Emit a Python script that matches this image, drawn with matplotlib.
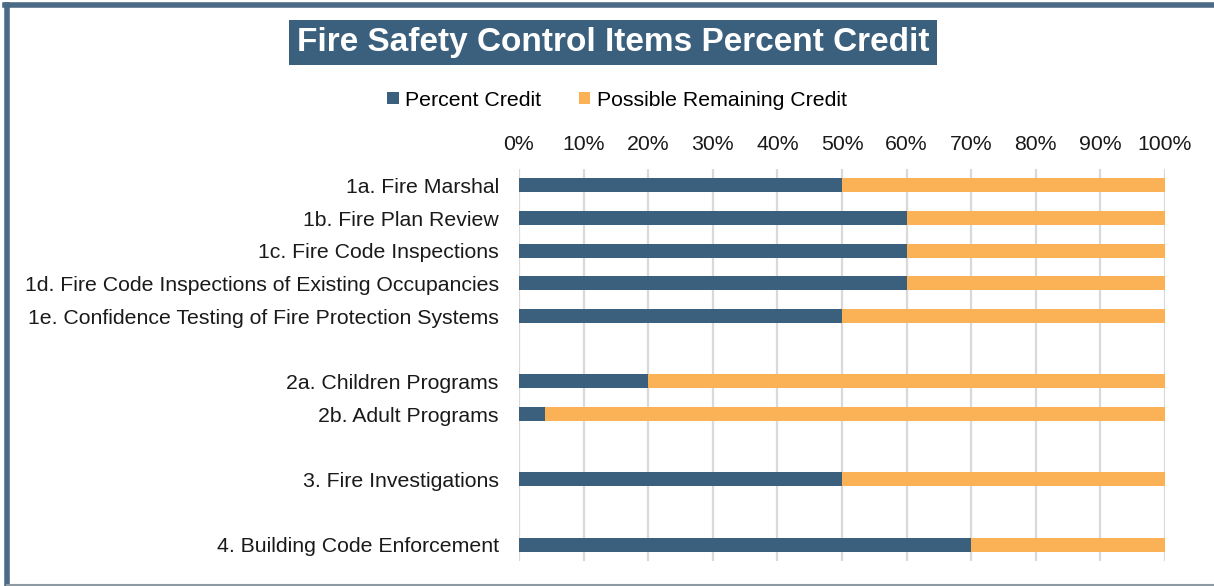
import matplotlib
matplotlib.use("Agg")
import matplotlib.pyplot as plt
from matplotlib.lines import Line2D
from matplotlib.ticker import PercentFormatter

categories = [
    "1a. Fire Marshal",
    "1b. Fire Plan Review",
    "1c. Fire Code Inspections",
    "1d. Fire Code Inspections of Existing Occupancies",
    "1e. Confidence Testing of Fire Protection Systems",
    "",
    "2a. Children Programs",
    "2b. Adult Programs",
    "",
    "3. Fire Investigations",
    "",
    "4. Building Code Enforcement",
]
percent_credit = [50, 60, 60, 60, 50, 0, 20, 4, 0, 50, 0, 70]
remaining_credit = [50, 40, 40, 40, 50, 0, 80, 96, 0, 50, 0, 30]
x_ticks = [0, 10, 20, 30, 40, 50, 60, 70, 80, 90, 100]

DARK = "#3b607d"
ORANGE = "#fbb257"
FONT = ["Liberation Sans", "DejaVu Sans"]
plt.rcParams["font.family"] = FONT
FS = 15.3

W, H = 1214, 586
fig = plt.figure(figsize=(W / 100, H / 100), dpi=100)
ax = fig.add_axes([519 / W, 1 - 561 / H, (1165 - 519) / W, (561 - 169) / H])

y = list(range(len(categories)))
ax.barh(y, percent_credit, height=0.43, color=DARK, label="Percent Credit", zorder=3)
ax.barh(y, remaining_credit, left=percent_credit, height=0.43, color=ORANGE,
        label="Possible Remaining Credit", zorder=3)

ax.set_ylim(len(categories) - 0.5, -0.5)
ax.set_xlim(0, 100)
ax.set_yticks(y)
ax.set_yticklabels(categories, fontsize=FS, color="#1a1a1a")
ax.set_xticks(x_ticks)
ax.xaxis.set_major_formatter(PercentFormatter(decimals=0))
ax.xaxis.tick_top()
ax.tick_params(axis="x", length=0, labelsize=FS, pad=11, labelcolor="#1a1a1a")
ax.tick_params(axis="y", length=0, pad=14.5)
ax.grid(axis="x", color="#d9d9d9", linewidth=1.6, zorder=0)
for s in ax.spines.values():
    s.set_visible(False)

# legend
handles, labels = ax.get_legend_handles_labels()
fig.legend(handles, labels, loc="center", bbox_to_anchor=(617 / W, 1 - 100 / H),
           ncol=2, frameon=False, fontsize=FS, handlelength=0.55, handleheight=0.55,
           handletextpad=0.3, columnspacing=1.75)

# title with box
fig.text(613 / W, 1 - 42.5 / H, "Fire Safety Control Items Percent Credit",
         ha="center", va="center", fontsize=24, fontweight="bold", color="white",
         bbox=dict(boxstyle="square,pad=0.22", facecolor=DARK, edgecolor="none"))

# figure border
fig.add_artist(Line2D([7 / W, 7 / W], [0, 1 - 5 / H], transform=fig.transFigure,
                      color="#4a6a86", linewidth=4))
fig.add_artist(Line2D([5 / W, 1], [1 - 5 / H, 1 - 5 / H], transform=fig.transFigure,
                      color="#4a6a86", linewidth=4))
fig.add_artist(Line2D([7 / W, 1], [1 - 585 / H, 1 - 585 / H], transform=fig.transFigure,
                      color="#8e9aa3", linewidth=1.5))

fig.savefig("out.png", dpi=100)
